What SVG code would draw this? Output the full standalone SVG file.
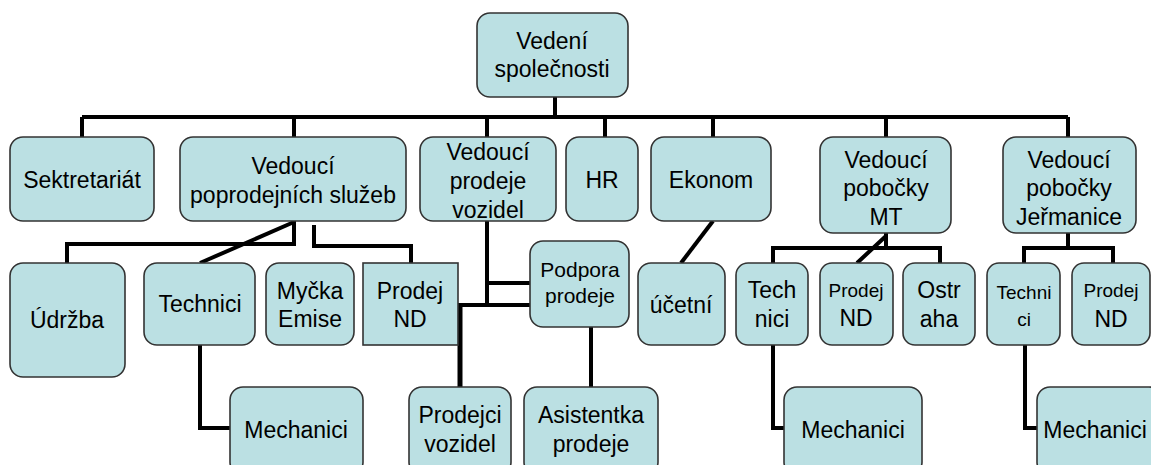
<svg xmlns="http://www.w3.org/2000/svg" width="1151" height="465" viewBox="0 0 1151 465">
<style>
.b{fill:#BBE0E3;stroke:#333;stroke-width:1.6}
.t{font-family:"Liberation Sans",Arial,sans-serif;font-size:23px;fill:#000;text-anchor:middle}
.s{font-size:19px}
.m{font-size:21px}
.c{fill:none;stroke:#000;stroke-width:4;stroke-linejoin:miter}
</style>
<rect width="1151" height="465" fill="#fff"/>
<g id="connectors" class="c">
<path d="M555 97V117M82 117H1068M82 117V137M294 117V137M487 117V137M605 117V137M713 117V137M886 117V137M1068 117V137"/>
<path d="M294 221V244H67V263"/>
<path d="M294 222L200 263"/>
<path d="M314 225V246H411V263"/>
<path d="M200 345V428H230"/>
<path d="M487 221V305M487 283H530M458 305H530"/>
<path d="M460 305V387" stroke-width="5"/>
<path d="M591 327V387"/>
<path d="M713 221L681 263"/>
<path d="M886 233V248M773 263V248H940V263M886 236L857 263"/>
<path d="M773 345V428H784"/>
<path d="M1068 233V248M1024 263V248H1113V263"/>
<path d="M1025 345V428H1037"/>
</g>
<g id="vedeni"><rect class="b" x="477" y="13" width="151" height="84" rx="13"/><text class="t" x="552" y="49">Vedení</text><text class="t" x="552" y="77">společnosti</text></g>
<g id="sektretariat"><rect class="b" x="10" y="137" width="144" height="84" rx="13"/><text class="t" x="82" y="188">Sektretariát</text></g>
<g id="poprodejni"><rect class="b" x="180" y="137" width="226" height="84" rx="13"/><text class="t" x="293" y="174">Vedoucí</text><text class="t" x="293" y="203">poprodejních služeb</text></g>
<g id="prodeje"><rect class="b" x="420" y="137" width="136" height="84" rx="13"/><text class="t" x="488" y="160">Vedoucí</text><text class="t" x="488" y="189">prodeje</text><text class="t" x="488" y="218">vozidel</text></g>
<g id="hr"><rect class="b" x="566" y="137" width="72" height="84" rx="13"/><text class="t" x="602" y="188">HR</text></g>
<g id="ekonom"><rect class="b" x="651" y="137" width="120" height="84" rx="13"/><text class="t" x="711" y="188">Ekonom</text></g>
<g id="mt"><rect class="b" x="820" y="137" width="131" height="96" rx="13"/><text class="t" x="886" y="168">Vedoucí</text><text class="t" x="886" y="196">pobočky</text><text class="t" x="886" y="225">MT</text></g>
<g id="jermanice"><rect class="b" x="1003" y="137" width="133" height="96" rx="13"/><text class="t" x="1069" y="168">Vedoucí</text><text class="t" x="1069" y="196">pobočky</text><text class="t" x="1069" y="225">Jeřmanice</text></g>
<g id="udrzba"><rect class="b" x="10" y="263" width="115" height="114" rx="13"/><text class="t" x="67" y="328">Údržba</text></g>
<g id="technici"><rect class="b" x="144" y="263" width="111" height="82" rx="13"/><text class="t" x="200" y="312">Technici</text></g>
<g id="mycka"><rect class="b" x="266" y="263" width="88" height="82" rx="13"/><text class="t" x="310" y="299">Myčka</text><text class="t" x="310" y="327">Emise</text></g>
<g id="prodejnd"><rect class="b" x="363" y="263" width="95" height="82"/><text class="t" x="410" y="299">Prodej</text><text class="t" x="410" y="327">ND</text></g>
<g id="podpora"><rect class="b" x="530" y="241" width="99" height="86" rx="13"/><text class="t m" x="580" y="277">Podpora</text><text class="t m" x="580" y="303">prodeje</text></g>
<g id="ucetni"><rect class="b" x="638" y="263" width="87" height="82" rx="13"/><text class="t" x="681" y="313">účetní</text></g>
<g id="mt-technici"><rect class="b" x="736" y="263" width="72" height="82" rx="12"/><text class="t" x="772" y="298">Tech</text><text class="t" x="772" y="327">nici</text></g>
<g id="mt-prodej"><rect class="b" x="820" y="263" width="73" height="82" rx="12"/><text class="t s" x="856" y="297">Prodej</text><text class="t" x="856" y="326">ND</text></g>
<g id="mt-ostraha"><rect class="b" x="903" y="263" width="72" height="82" rx="12"/><text class="t" x="939" y="298">Ostr</text><text class="t" x="939" y="327">aha</text></g>
<g id="j-technici"><rect class="b" x="987" y="263" width="73" height="82" rx="12"/><text class="t s" x="1024" y="299">Techni</text><text class="t s" x="1024" y="326">ci</text></g>
<g id="j-prodej"><rect class="b" x="1072" y="263" width="78" height="82" rx="12"/><text class="t s" x="1111" y="297">Prodej</text><text class="t" x="1111" y="327">ND</text></g>
<g id="mechanici"><rect class="b" x="230" y="387" width="133" height="88" rx="13"/><text class="t" x="296" y="438">Mechanici</text></g>
<g id="prodejci"><rect class="b" x="409" y="387" width="102" height="88" rx="13"/><text class="t" x="460" y="423">Prodejci</text><text class="t" x="460" y="452">vozidel</text></g>
<g id="asistentka"><rect class="b" x="524" y="387" width="134" height="88" rx="13"/><text class="t" x="591" y="423">Asistentka</text><text class="t" x="591" y="452">prodeje</text></g>
<g id="mt-mechanici"><rect class="b" x="784" y="387" width="138" height="88" rx="13"/><text class="t" x="853" y="438">Mechanici</text></g>
<g id="j-mechanici"><rect class="b" x="1037" y="387" width="125" height="88" rx="13"/><text class="t" x="1095" y="438">Mechanici</text></g>
</svg>
